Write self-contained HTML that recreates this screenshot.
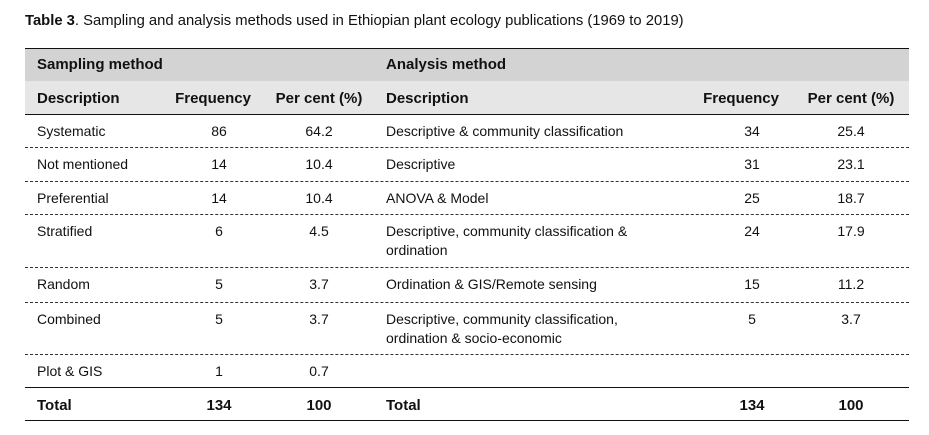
<!DOCTYPE html>
<html><head><meta charset="utf-8"><style>
body{margin:0;width:929px;height:435px;background:#fff;position:relative;font-family:"Liberation Sans",sans-serif;color:#111;overflow:hidden}
.t{position:absolute;font-size:14px;white-space:nowrap;line-height:19px}
.c{transform:translateX(-50%)}
.b{font-weight:bold;font-size:15px}
.hl{position:absolute;left:25px;width:884px}
</style></head><body>
<div class="t" style="left:25px;top:12px;font-size:14.8px"><b>Table 3</b>. Sampling and analysis methods used in Ethiopian plant ecology publications (1969 to 2019)</div>
<div class="hl" style="top:48px;height:33px;background:#d3d3d3;border-top:1.5px solid #111"></div>
<div class="hl" style="top:81px;height:33px;background:#e6e6e6;border-bottom:1.5px solid #111"></div>
<div class="t b" style="left:37px;top:55px">Sampling method</div>
<div class="t b" style="left:386px;top:55px">Analysis method</div>
<div class="t b" style="left:37px;top:89px">Description</div>
<div class="t b c" style="left:213px;top:89px">Frequency</div>
<div class="t b c" style="left:319px;top:89px">Per cent (%)</div>
<div class="t b" style="left:386px;top:89px">Description</div>
<div class="t b c" style="left:741px;top:89px">Frequency</div>
<div class="t b c" style="left:851px;top:89px">Per cent (%)</div>
<div id="rows"></div>
<div class="hl" style="top:387px;border-top:1.5px solid #111"></div>
<div class="hl" style="top:420px;border-top:1.5px solid #111"></div>
<div class="t b" style="left:37px;top:396px">Total</div>
<div class="t b c" style="left:219px;top:396px">134</div>
<div class="t b c" style="left:319px;top:396px">100</div>
<div class="t b" style="left:386px;top:396px">Total</div>
<div class="t b c" style="left:752px;top:396px">134</div>
<div class="t b c" style="left:851px;top:396px">100</div>
<script>
const rowTops=[114,147,181,214,267,302,354];
const rowBottoms=[147,181,214,267,302,354,387];
const sDesc=["Systematic","Not mentioned","Preferential","Stratified","Random","Combined","Plot &amp; GIS"];
const sFreq=["86","14","14","6","5","5","1"];
const sPct=["64.2","10.4","10.4","4.5","3.7","3.7","0.7"];
const aDesc=["Descriptive &amp; community classification","Descriptive","ANOVA &amp; Model","Descriptive, community classification &amp;<br>ordination","Ordination &amp; GIS/Remote sensing","Descriptive, community classification,<br>ordination &amp; socio-economic",""];
const aFreq=["34","31","25","24","15","5",""];
const aPct=["25.4","23.1","18.7","17.9","11.2","3.7",""];
const host=document.getElementById('rows');
function cell(html,left,top,center,name){
  const d=document.createElement('div');
  d.className='t'+(center?' c':'');
  d.style.left=left+'px';d.style.top=top+'px';
  d.innerHTML=html;
  
  
  host.appendChild(d);
}
for(let i=0;i<sDesc.length;i++){
  const y=rowTops[i]+8;
  cell(sDesc[i],37,y,false,'sampling-description');
  cell(sFreq[i],219,y,true,'sampling-frequency');
  cell(sPct[i],319,y,true,'sampling-percent');
  if(aDesc[i]) cell(aDesc[i],386,y,false,'analysis-description');
  if(aFreq[i]) cell(aFreq[i],752,y,true,'analysis-frequency');
  if(aPct[i]) cell(aPct[i],851,y,true,'analysis-percent');
  if(i<sDesc.length-1){
    const l=document.createElement('div');
    l.className='hl';l.style.top=rowBottoms[i]+'px';l.style.borderTop='1px dashed #333';
    
    
    host.appendChild(l);
  }
}
</script>
</body></html>
